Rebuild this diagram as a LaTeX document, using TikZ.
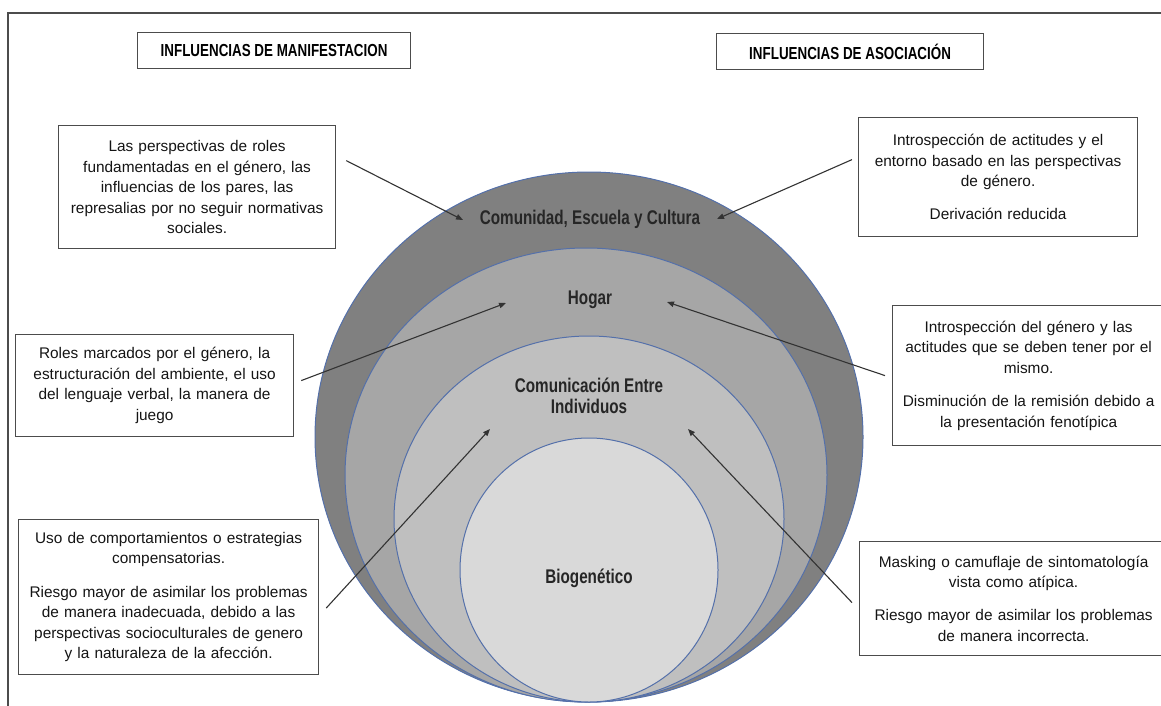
\documentclass[tikz,border=0pt]{standalone}
\usepackage{fontspec}
\setmainfont{Liberation Sans}
\newfontfamily\narrowfont[FakeStretch=0.77]{Liberation Sans}
\usepackage{xcolor}
\usetikzlibrary{arrows.meta,positioning,calc}

\definecolor{anilloA}{RGB}{128,128,128}
\definecolor{anilloB}{RGB}{166,166,166}
\definecolor{anilloC}{RGB}{191,191,191}
\definecolor{anilloD}{RGB}{217,217,217}
\definecolor{bordeAnillo}{RGB}{84,112,170}

\begin{document}
\begin{tikzpicture}[x=1pt,y=-1pt,
  caja/.style={draw=black!70, line width=1.2pt, align=center, anchor=north west,
    inner xsep=6pt, inner ysep=0pt, text=black!92,
    font=\fontsize{15.4}{20.6}\selectfont},
  titulo/.style={draw=black!70, line width=1.2pt, anchor=north west, inner sep=0pt,
    minimum height=36pt, text=black,
    font=\narrowfont\bfseries\fontsize{17.4}{18}\selectfont},
  etiqueta/.style={align=center, text=black!85,
    font=\narrowfont\bfseries\fontsize{19.8}{21}\selectfont},
  anillo/.style={draw=bordeAnillo, line width=1pt},
  flecha/.style={draw=black!80, line width=1.1pt, -{Triangle[length=7pt,width=5.5pt]}}]
  \clip (0,0) rectangle (1161,706);

  % Frame
  \draw[black!70, line width=1.2pt] (8,706) -- (8,13) -- (1161,13);

  % Titles
  \node[titulo, minimum width=273pt] (tituloMan) at (137,32) {INFLUENCIAS DE MANIFESTACION};
  \node[titulo, minimum width=267pt] (tituloAso) at (716,33) {INFLUENCIAS DE ASOCIACIÓN};

  % Nested circles
  \filldraw[anillo, fill=anilloA] (589,437) ellipse [x radius=274, y radius=265];
  \filldraw[anillo, fill=anilloB] (586,475) ellipse [x radius=241, y radius=227];
  \filldraw[anillo, fill=anilloC] (589,519) ellipse [x radius=195, y radius=183];
  \filldraw[anillo, fill=anilloD] (589,570) ellipse [x radius=129, y radius=132];

  \node[etiqueta] (comunidad) at (590,219) {Comunidad, Escuela y Cultura};
  \node[etiqueta] (hogar) at (590,300) {Hogar};
  \node[etiqueta] (comunicacion) at (589,396) {Comunicación Entre\\Individuos};
  \node[etiqueta] (biogenetico) at (589,578) {Biogenético};

  % Left boxes
  \node[caja, text width=265pt, minimum height=123pt] (pares) at (58,125)
    {Las perspectivas de roles\\fundamentadas en el género, las\\influencias de los pares, las\\represalias por no seguir normativas\\sociales.};
  \node[caja, text width=266pt, minimum height=102pt] (roles) at (15,334)
    {Roles marcados por el género, la\\estructuración del ambiente, el uso\\del lenguaje verbal, la manera de\\juego};
  \node[caja, text width=288pt, minimum height=155pt] (compensa) at (18,519)
    {Uso de comportamientos o estrategias\\compensatorias.\\[12.5pt]Riesgo mayor de asimilar los problemas\\de manera inadecuada, debido a las\\perspectivas socioculturales de genero\\y la naturaleza de la afección.};

  % Right boxes
  \node[caja, text width=267pt, minimum height=119pt] (entorno) at (858,117)
    {Introspección de actitudes y el\\entorno basado en las perspectivas\\de género.\\[12.5pt]Derivación reducida};
  \node[caja, text width=260pt, minimum height=140pt] (remision) at (892,305)
    {Introspección del género y las\\actitudes que se deben tener por el\\mismo.\\[12.5pt]Disminución de la remisión debido a\\la presentación fenotípica};
  \node[caja, text width=296pt, minimum height=114pt] (masking) at (859,541)
    {Masking o camuflaje de sintomatología\\vista como atípica.\\[12.5pt]Riesgo mayor de asimilar los problemas\\de manera incorrecta.};

  % Arrow tips
  \coordinate (tipComL) at (463,220);
  \coordinate (tipComR) at (717,219);
  \coordinate (tipHogL) at (506,303);
  \coordinate (tipHogR) at (667,302);
  \coordinate (tipIndL) at (490,429);
  \coordinate (tipIndR) at (688,429);

  % Arrows
  \draw[flecha] ([xshift=10pt,yshift=26.5pt]pares.east) -- (tipComL);
  \draw[flecha] ([xshift=-6pt,yshift=17.5pt]entorno.west) -- (tipComR);
  \draw[flecha] ([xshift=7pt,yshift=5pt]roles.east) -- (tipHogL);
  \draw[flecha] ([xshift=-7pt]remision.west) -- (tipHogR);
  \draw[flecha] ([xshift=7pt,yshift=-11pt]compensa.east) -- (tipIndL);
  \draw[flecha] ([xshift=-7pt,yshift=-4pt]masking.west) -- (tipIndR);
\end{tikzpicture}
\end{document}
